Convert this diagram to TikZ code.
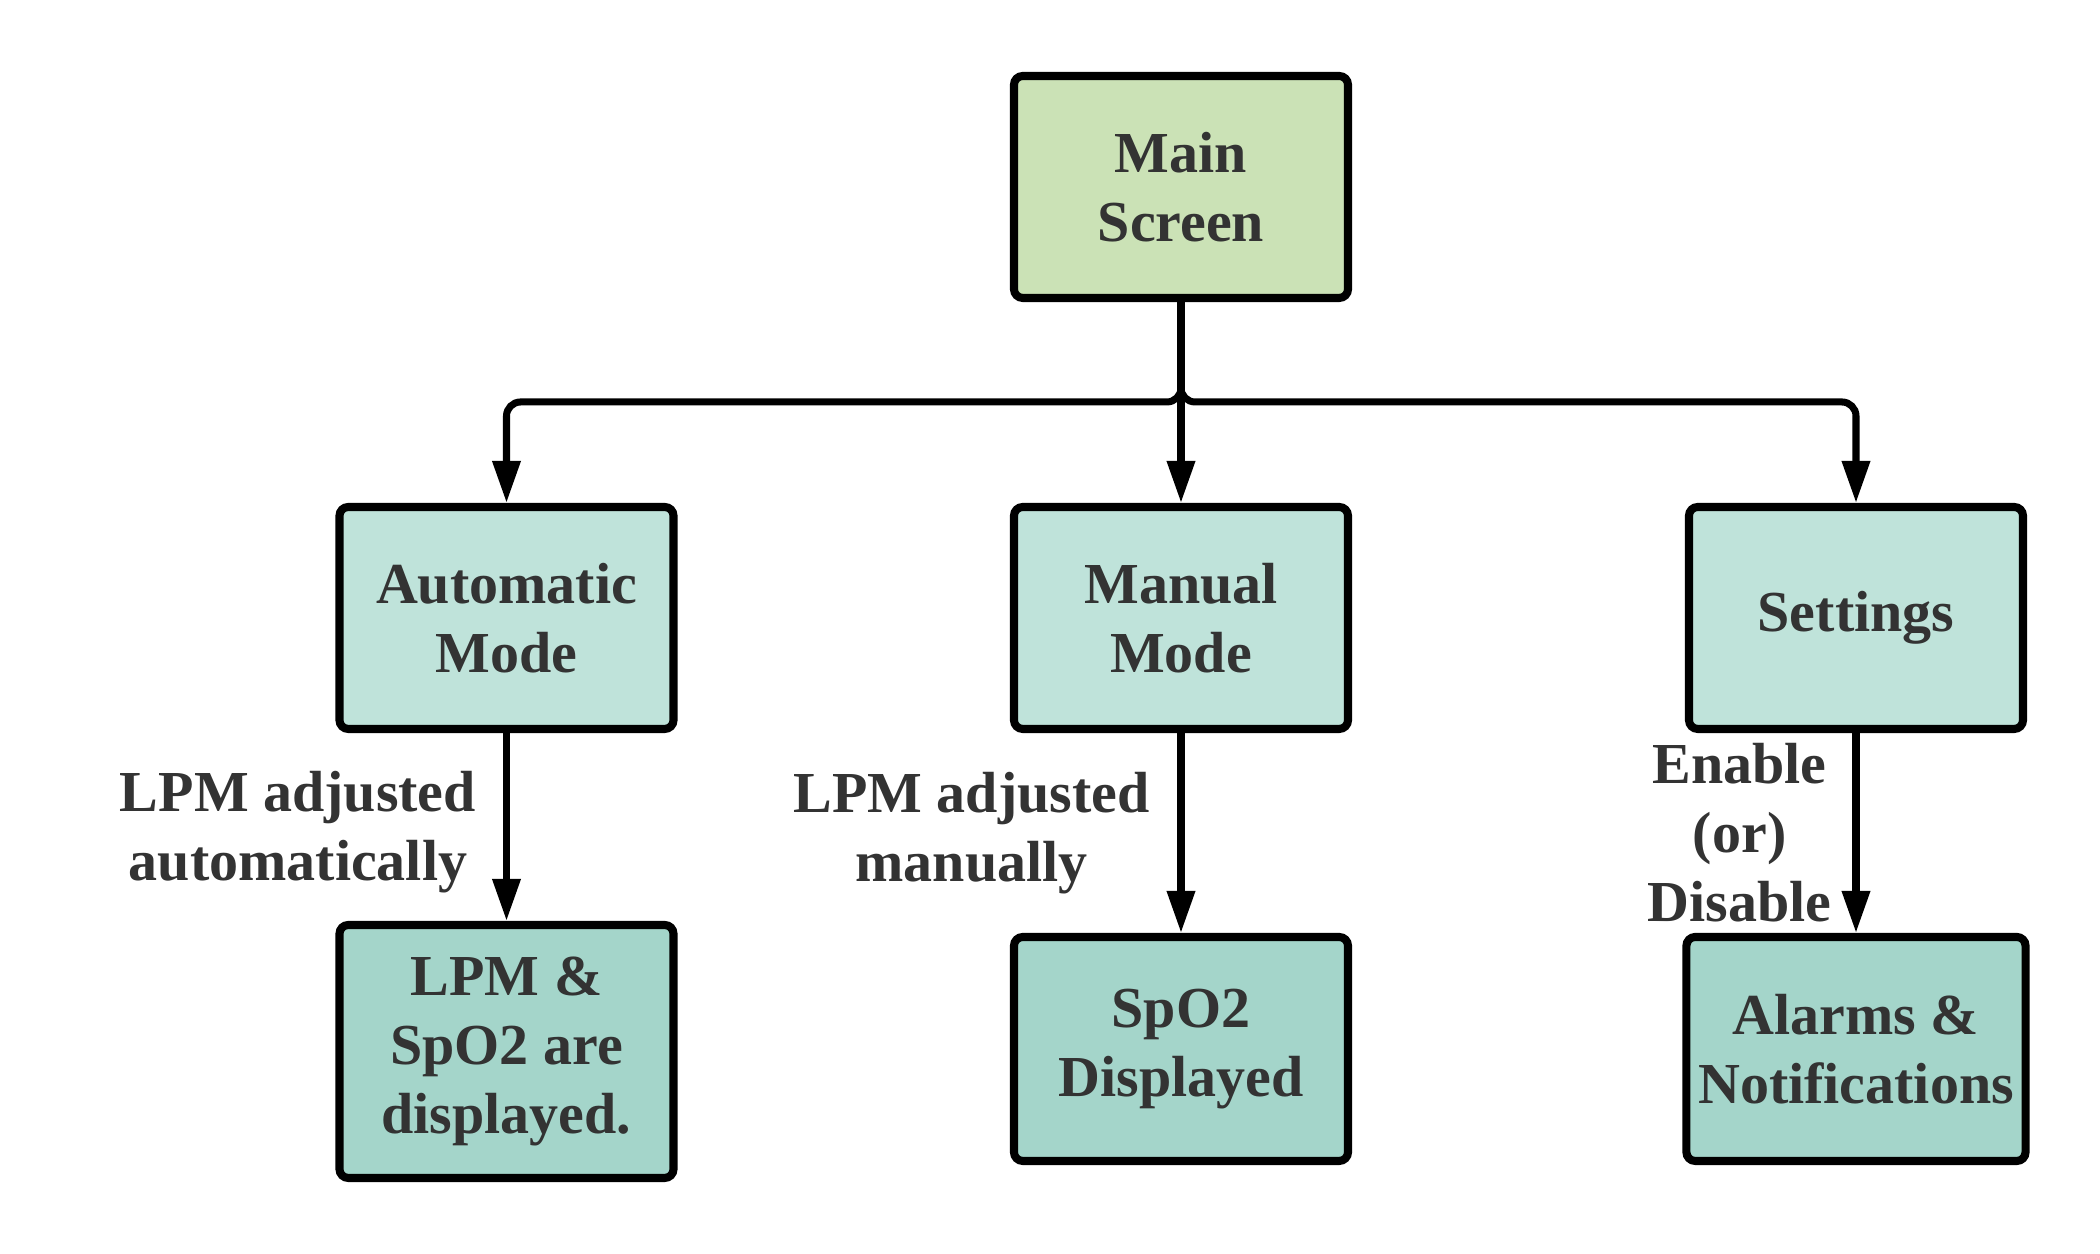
\documentclass[tikz,border=0pt]{standalone}
\usepackage{fontspec}
\setmainfont{Liberation Serif}
\usetikzlibrary{arrows.meta,positioning}

\definecolor{topgreen}{RGB}{203,226,182}
\definecolor{midteal}{RGB}{191,227,218}
\definecolor{lowteal}{RGB}{164,213,202}
\definecolor{inkgray}{RGB}{51,51,51}

\tikzset{
  box/.style={draw=black, line width=2.3pt, rounded corners=2.5pt,
    minimum width=3.34cm, minimum height=2.22cm, align=center,
    text=inkgray, font=\fontsize{16.5}{19.6}\selectfont\bfseries},
  flow/.style={draw=black, line width=2pt, -{Triangle[length=12pt,width=7.7pt]}},
  note/.style={align=center, inner sep=0pt, text=inkgray,
    font=\fontsize{16.5}{19.6}\selectfont\bfseries}
}

\begin{document}
\begin{tikzpicture}
\useasboundingbox (0,0) rectangle (21,12.54);

% top of the tree
\node[box, fill=topgreen] (main) at (11.81,10.67) {Main\\Screen};

% the three modes
\node[box, fill=midteal] (auto)     at (5.065,6.36) {Automatic\\Mode};
\node[box, fill=midteal] (manual)   at (11.81,6.36) {Manual\\Mode};
\node[box, fill=midteal] (settings) at (18.56,6.36) {Settings};

% what each mode leads to
\node[box, fill=lowteal, minimum height=2.53cm] (lpmshow) at (5.065,2.025) {LPM \&\\SpO2 are\\displayed.};
\node[box, fill=lowteal, minimum height=2.24cm] (sposhow) at (11.81,2.05) {SpO2\\Displayed};
\node[box, fill=lowteal, minimum height=2.24cm] (alarms)  at (18.56,2.05) {Alarms \&\\Notifications};

\coordinate (split) at (11.81,8.52);

\draw[flow, rounded corners=4pt] (main.south) -- (split) -| (auto.north);
\draw[flow] (main.south) -- (manual.north);
\draw[flow, rounded corners=4pt] (main.south) -- (split) -| (settings.north);

\draw[flow] (auto.south) -- node[note, midway, anchor=east, xshift=-0.27cm, yshift=-0.05cm] {LPM adjusted\\automatically} (lpmshow.north);
\draw[flow] (manual.south) -- node[note, midway, anchor=east, xshift=-0.28cm] {LPM adjusted\\manually} (sposhow.north);
\draw[flow] (settings.south) -- node[note, midway, anchor=east, xshift=-0.21cm] {Enable\\(or)\\Disable} (alarms.north);
\end{tikzpicture}
\end{document}
